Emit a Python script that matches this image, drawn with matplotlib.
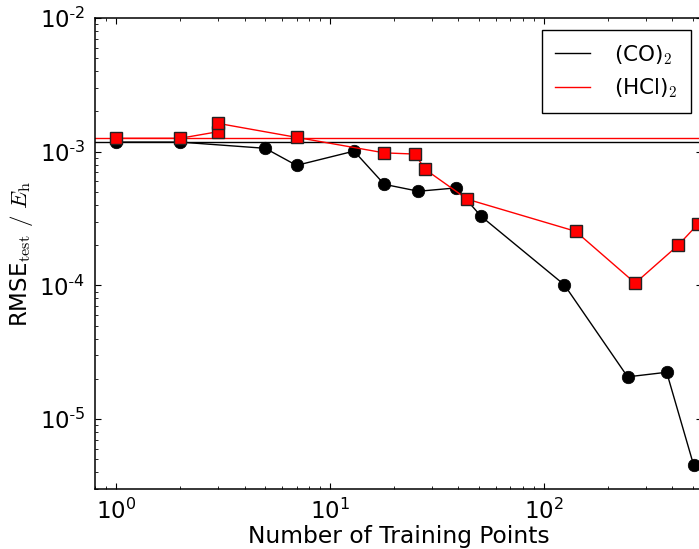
import matplotlib
matplotlib.use("Agg")
import matplotlib.pyplot as plt
from matplotlib.ticker import FuncFormatter, LogLocator, NullFormatter
import numpy as np

# ---- data ----
co_x = [1, 2, 5, 7, 13, 18, 26, 39, 51, 125, 247, 376, 502]
co_y = [1.18e-3, 1.18e-3, 1.06e-3, 7.9e-4, 1.01e-3, 5.7e-4, 5.06e-4,
        5.36e-4, 3.29e-4, 1.01e-4, 2.07e-5, 2.24e-5, 4.56e-6]
hcl_x = [1, 2, 3, 3, 7, 18, 25, 28, 44, 141, 268, 426, 525]
hcl_y = [1.26e-3, 1.26e-3, 1.41e-3, 1.63e-3, 1.28e-3, 9.8e-4, 9.6e-4,
         7.36e-4, 4.41e-4, 2.54e-4, 1.04e-4, 2.0e-4, 2.86e-4]
co_ref = 1.18e-3
hcl_ref = 1.26e-3
labels = [r"(CO)$_2$", r"(HCl)$_2$"]
xlabel = "Number of Training Points"
ylabel = r"RMSE$_{\rm test}$ $/$ $E_{\rm h}$"

plt.rcParams.update({
    "font.family": ["DejaVu Sans"],
    "mathtext.fontset": "cm",
    "xtick.direction": "in",
    "ytick.direction": "in",
    "xtick.top": True,
    "ytick.right": True,
    "xtick.major.size": 4.5,
    "ytick.major.size": 4.5,
    "xtick.minor.size": 2.5,
    "ytick.minor.size": 2.5,
    "xtick.major.width": 0.8,
    "ytick.major.width": 0.8,
    "xtick.minor.width": 0.6,
    "ytick.minor.width": 0.6,
    "axes.linewidth": 1.1,
})

W, H = 699, 549
fig = plt.figure(figsize=(W / 100, H / 100), dpi=100)
left, right, top, bottom = 95, 702, 18, 489
ax = fig.add_axes([left / W, (H - bottom) / H, (right - left) / W, (bottom - top) / H])

ax.axhline(co_ref, color="black", lw=1.0, label=labels[0], zorder=2)
ax.axhline(hcl_ref, color="red", lw=1.0, label=labels[1], zorder=2)

ax.plot(co_x, co_y, "-o", color="black", lw=1.0, ms=9, mec="black", mew=0.5, zorder=3)
ax.plot(hcl_x, hcl_y, "-s", color="red", lw=1.0, ms=8.8, mfc="red", mec="#222222", mew=1.0, zorder=4)

ax.set_xscale("log")
ax.set_yscale("log")
ax.set_xlim(0.8, 550)
ax.set_ylim(3e-6, 1e-2)


def fmt(v, pos):
    e = int(round(np.log10(v)))
    if e < 0:
        return r"$\mathdefault{10^{\text{-}%d}}$" % (-e)
    return r"$\mathdefault{10^{%d}}$" % e


ax.xaxis.set_major_locator(LogLocator(base=10))
ax.yaxis.set_major_locator(LogLocator(base=10))
ax.xaxis.set_major_formatter(FuncFormatter(fmt))
ax.yaxis.set_major_formatter(FuncFormatter(fmt))
ax.xaxis.set_minor_formatter(NullFormatter())
ax.yaxis.set_minor_formatter(NullFormatter())
ax.tick_params(axis="both", which="major", labelsize=16.5)
ax.tick_params(axis="x", which="major", pad=7)
ax.tick_params(axis="y", which="major", pad=7)

ax.set_xlabel(xlabel, fontsize=16.8, labelpad=1)
ax.set_ylabel(ylabel, fontsize=16.5, labelpad=3)

leg = ax.legend(loc="upper right", bbox_to_anchor=(691 / W, 1 - 30 / H),
                bbox_transform=fig.transFigure, borderaxespad=0,
                fontsize=15.5, fancybox=False, framealpha=1, edgecolor="black",
                handlelength=1.6, handletextpad=1.15, labelspacing=0.45,
                borderpad=0.6)
leg.get_frame().set_linewidth(1.0)

fig.savefig("out.png", dpi=100)
